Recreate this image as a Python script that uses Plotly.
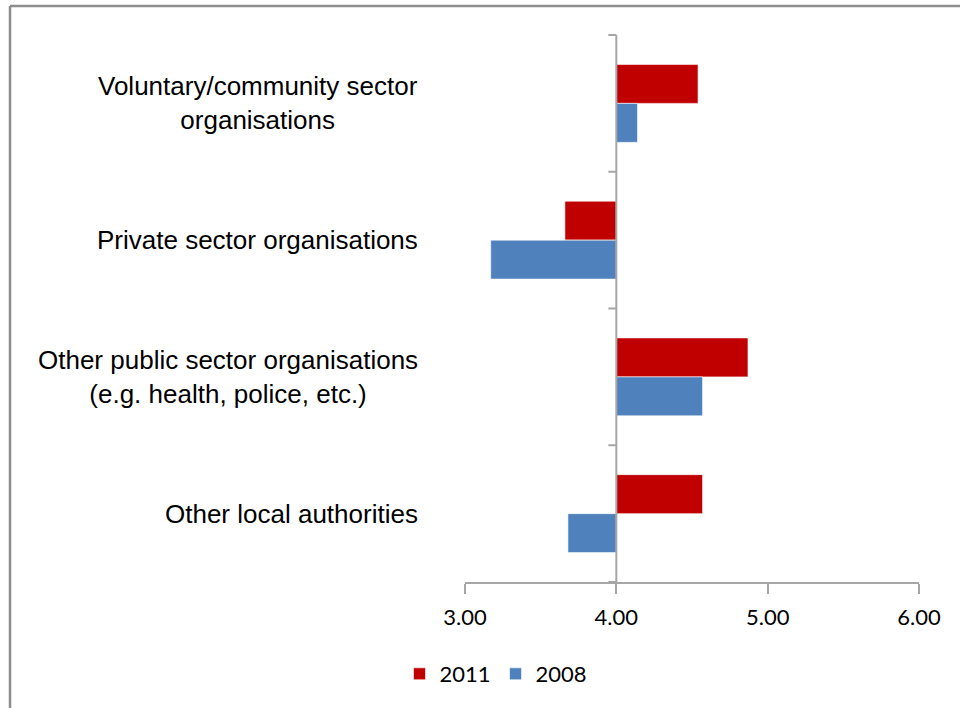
import plotly.graph_objects as go

categories = ["Voluntary/community sector<br>organisations",
              "Private sector organisations",
              "Other public sector organisations<br>(e.g. health, police, etc.)",
              "Other local authorities"]
series_names = ["2011", "2008"]
values_2011 = [4.54, 3.66, 4.87, 4.57]
values_2008 = [4.14, 3.17, 4.57, 3.68]
base_value = 4.0
x_ticks = [3.0, 4.0, 5.0, 6.0]
x_tick_labels = ["3.00", "4.00", "5.00", "6.00"]
colors = ["#C00000", "#4F81BD"]

W, H = 960, 708
L, R, T, B = 465, 41, 35, 126
pw, ph = W - L - R, H - T - B

fig = go.Figure()
for name, vals, col in zip(series_names, [values_2011, values_2008], colors):
    fig.add_trace(go.Bar(
        y=categories, x=[v - base_value for v in vals], base=base_value,
        orientation="h", name=name,
        marker=dict(color=col, line=dict(color="rgba(255,255,255,0.6)", width=1)),
    ))

fig.update_layout(
    width=W, height=H,
    margin=dict(l=L, r=R, t=T, b=B, autoexpand=False),
    paper_bgcolor="white", plot_bgcolor="white",
    barmode="group", bargap=0.43, bargroupgap=0,
    showlegend=True,
    legend=dict(orientation="h", x=(496 - L) / pw, xanchor="center",
                y=-(674 - 582) / ph, yanchor="middle",
                font=dict(family="Lato, Carlito, sans-serif", size=22, color="#000"),
                itemwidth=30, traceorder="normal", itemclick=False),
    xaxis=dict(range=[3, 6], tickvals=x_ticks, ticktext=x_tick_labels,
               showgrid=False, zeroline=False, showline=True, linecolor="#A6A6A6",
               linewidth=2, ticks="outside", ticklen=10, tickwidth=2, tickcolor="#A6A6A6",
               ticklabelstandoff=5,
               tickfont=dict(family="Lato, Carlito, sans-serif", size=22, color="#000"),
               fixedrange=True),
    yaxis=dict(autorange="reversed", showticklabels=False, showgrid=False,
               showline=False, zeroline=False, ticks="", fixedrange=True),
)

# category labels (centered multi-line, right-aligned block)
for c in categories:
    fig.add_annotation(x=0, xref="paper", y=c, yref="y", xanchor="right",
                       xshift=-(L - 420), align="center", showarrow=False,
                       text=c, font=dict(family="Liberation Sans, Arial", size=26, color="#000"))

# vertical axis line at base value with category boundary ticks
fig.add_shape(type="line", xref="x", yref="paper", x0=base_value, x1=base_value,
              y0=0, y1=1, line=dict(color="#A6A6A6", width=2))
n = len(categories)
for i in range(n + 1):
    yy = i / n
    fig.add_shape(type="line", xref="x", yref="paper", x0=base_value, x1=base_value - 8 / 151.5,
                  y0=yy, y1=yy, line=dict(color="#A6A6A6", width=2))

# outer frame (left & top edges visible)
fx = (10 - L) / pw
fy = 1 + (T - 6) / ph
fig.add_shape(type="line", xref="paper", yref="paper", x0=fx, x1=(W + 20 - L) / pw,
              y0=fy, y1=fy, line=dict(color="#8C8C8C", width=2.5))
fig.add_shape(type="line", xref="paper", yref="paper", x0=fx, x1=fx,
              y0=fy, y1=-(H + 20 - T - ph) / ph, line=dict(color="#8C8C8C", width=2.5))

fig.write_html("out.html", config={"displayModeBar": False},
               post_script="document.body.style.margin='0';")
